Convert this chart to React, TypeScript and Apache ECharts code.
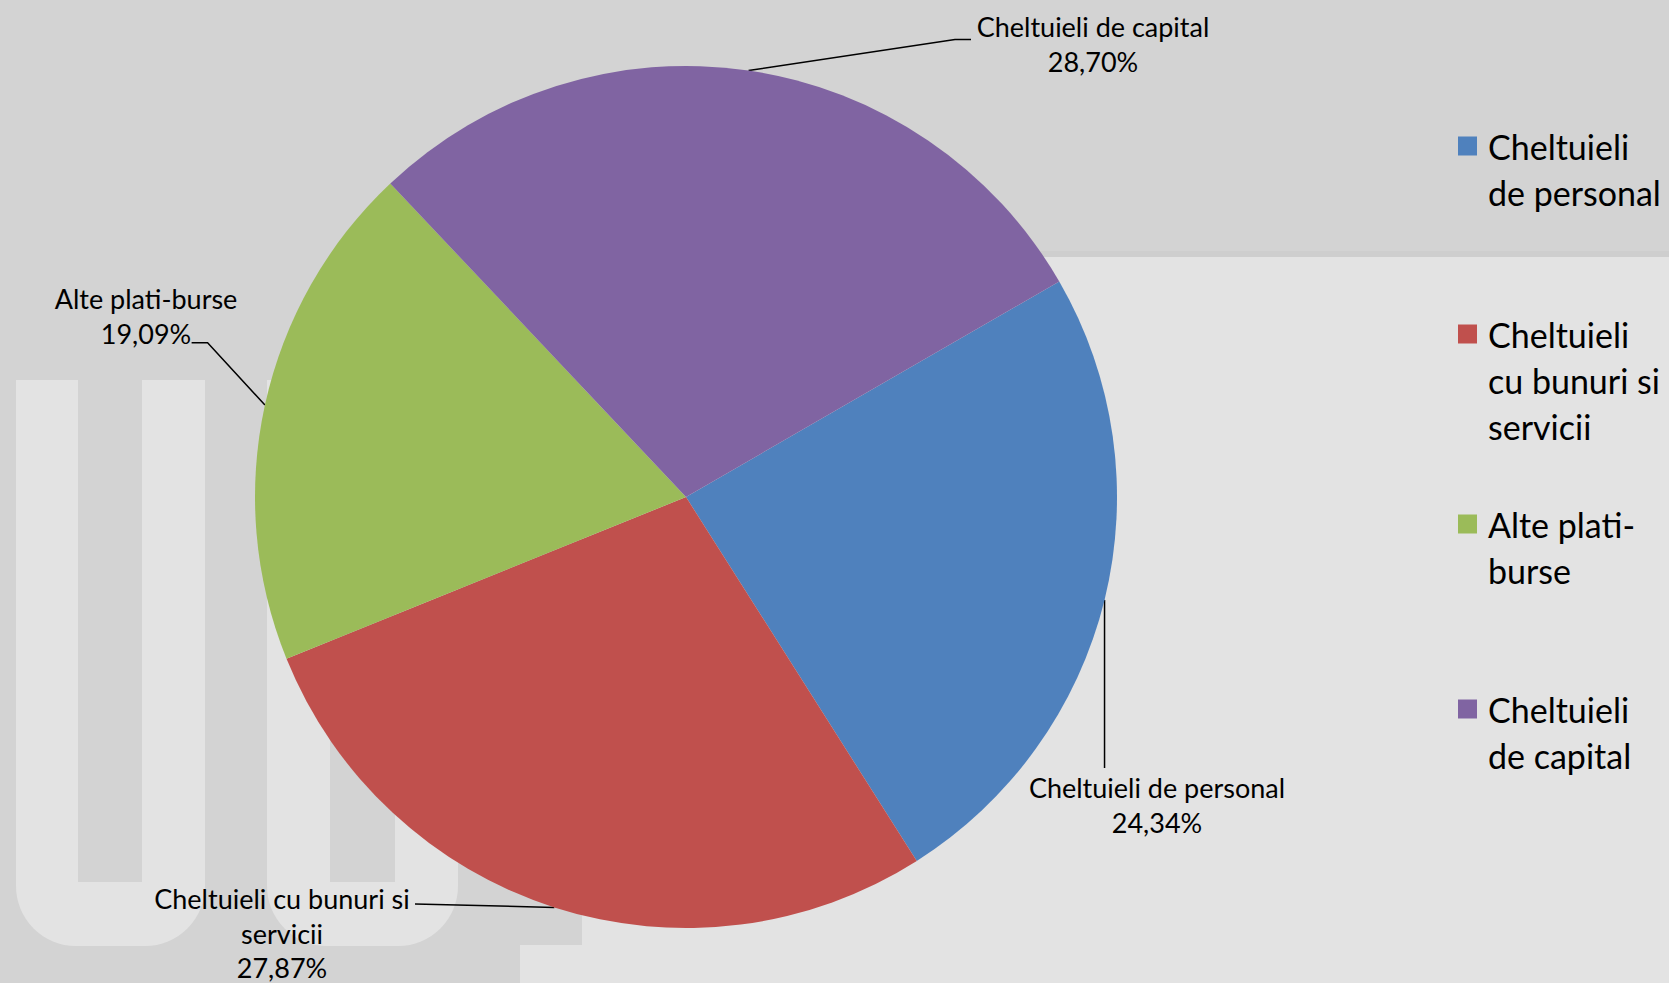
import React, { useEffect, useRef } from 'react';
import * as echarts from 'echarts';

// ---- data ----
const categories = [
  'Cheltuieli de personal',
  'Cheltuieli cu bunuri si servicii',
  'Alte plati-burse',
  'Cheltuieli de capital',
];
const shares = [24.34, 27.87, 19.09, 28.7];
const labelNames = [
  'Cheltuieli de personal',
  'Cheltuieli cu bunuri si\nservicii',
  'Alte plati-burse',
  'Cheltuieli de capital',
];
const legendNames = [
  'Cheltuieli\nde personal',
  'Cheltuieli\ncu bunuri si\nservicii',
  'Alte plati-\nburse',
  'Cheltuieli\nde capital',
];
const colors = ['#4f81bd', '#c0504d', '#9bbb59', '#8064a2'];

// ---- layout ----
const W = 1669;
const H = 983;
const DARK = '#d3d3d3';
const LIGHT = '#e3e3e3';
const FONT = 'Lato, "Open Sans", sans-serif';
const labelAnchors = [
  [1157, 805],
  [282, 933],
  [146, 316],
  [1093, 44],
];
// bend points of leader lines (null x => same x as start point)
const leaderBends: (number | null)[][][] = [
  [[null, 768], [null, 768]],
  [[415, 904], [415, 904]],
  [[207.6, 342.8], [191.6, 342.8]],
  [[955, 39.4], [971, 39.4]],
];
const legendTops = [123, 311, 501, 686];
const LEGEND_LH = 46;
const SQ = 19;

// legend icon: a square aligned with the first text line, inside a box as tall as the text block
function iconFor(lines: number) {
  const h = lines * LEGEND_LH;
  const top = LEGEND_LH / 2 - SQ / 2;
  return `path://M0,0M${SQ},${h}M0,${top}h${SQ}v${SQ}h-${SQ}z`;
}

export default function App() {
  const ref = useRef<HTMLDivElement>(null);
  useEffect(() => {
    document.body.style.margin = '0';
    if (!ref.current) return;
    const chart = echarts.init(ref.current, undefined, { renderer: 'svg' });
    const option: any = {
      animation: false,
      color: colors,
      graphic: [
        { type: 'rect', z: -10, silent: true, shape: { x: 0, y: 0, width: W, height: H }, style: { fill: DARK } },
        { type: 'rect', z: -9, silent: true, shape: { x: 582, y: 257, width: W - 582, height: H - 257 }, style: { fill: LIGHT } },
        { type: 'rect', z: -9, silent: true, shape: { x: 520, y: 945, width: 62, height: H - 945 }, style: { fill: LIGHT } },
        { type: 'rect', z: -9, silent: true, shape: { x: 582, y: 251, width: W - 582, height: 6 }, style: { fill: '#cecece' } },
        { type: 'rect', z: -9, silent: true, shape: { x: 16, y: 380, width: 189, height: 566, r: [0, 0, 60, 60] }, style: { fill: LIGHT } },
        { type: 'rect', z: -8, silent: true, shape: { x: 78, y: 380, width: 64, height: 502 }, style: { fill: DARK } },
        { type: 'rect', z: -9, silent: true, shape: { x: 267, y: 380, width: 191, height: 566, r: [0, 0, 60, 60] }, style: { fill: LIGHT } },
        { type: 'rect', z: -8, silent: true, shape: { x: 330, y: 380, width: 65, height: 502 }, style: { fill: DARK } },
      ],
      legend: categories.map((name, i) => {
        const lines = legendNames[i].split('\n').length;
        return {
          data: [{ name, icon: iconFor(lines) }],
          left: 1458,
          top: legendTops[i],
          orient: 'vertical',
          itemWidth: SQ,
          itemHeight: lines * LEGEND_LH,
          padding: 0,
          selectedMode: false,
          formatter: (n: string) => legendNames[categories.indexOf(n)],
          textStyle: {
            fontFamily: FONT,
            fontSize: 34,
            lineHeight: LEGEND_LH,
            color: '#000',
            padding: [0, 0, 0, 6],
          },
        };
      }),
      series: [
        {
          type: 'pie',
          center: [686, 497],
          radius: 431,
          startAngle: 30,
          clockwise: true,
          avoidLabelOverlap: false,
          emphasis: { disabled: true },
          data: categories.map((name, i) => ({ name, value: shares[i] })),
          label: {
            show: true,
            position: 'outside',
            fontFamily: FONT,
            fontSize: 27,
            lineHeight: 34.5,
            color: '#000',
            formatter: (p: any) =>
              labelNames[p.dataIndex] + '\n' + shares[p.dataIndex].toFixed(2).replace('.', ',') + '%',
          },
          labelLine: {
            show: true,
            length: 20,
            length2: 20,
            lineStyle: { color: '#000', width: 1.5 },
          },
          labelLayout: (params: any) => {
            const i = params.dataIndex;
            const p0 = params.labelLinePoints ? params.labelLinePoints[0] : [0, 0];
            const pts = [p0].concat(
              leaderBends[i].map((b) => [b[0] == null ? p0[0] : (b[0] as number), b[1] as number])
            );
            return {
              x: labelAnchors[i][0],
              y: labelAnchors[i][1],
              align: 'center',
              verticalAlign: 'middle',
              labelLinePoints: pts,
            };
          },
        },
      ],
    };
    chart.setOption(option);
    return () => chart.dispose();
  }, []);
  return <div ref={ref} style={{ width: W, height: H }} />;
}
